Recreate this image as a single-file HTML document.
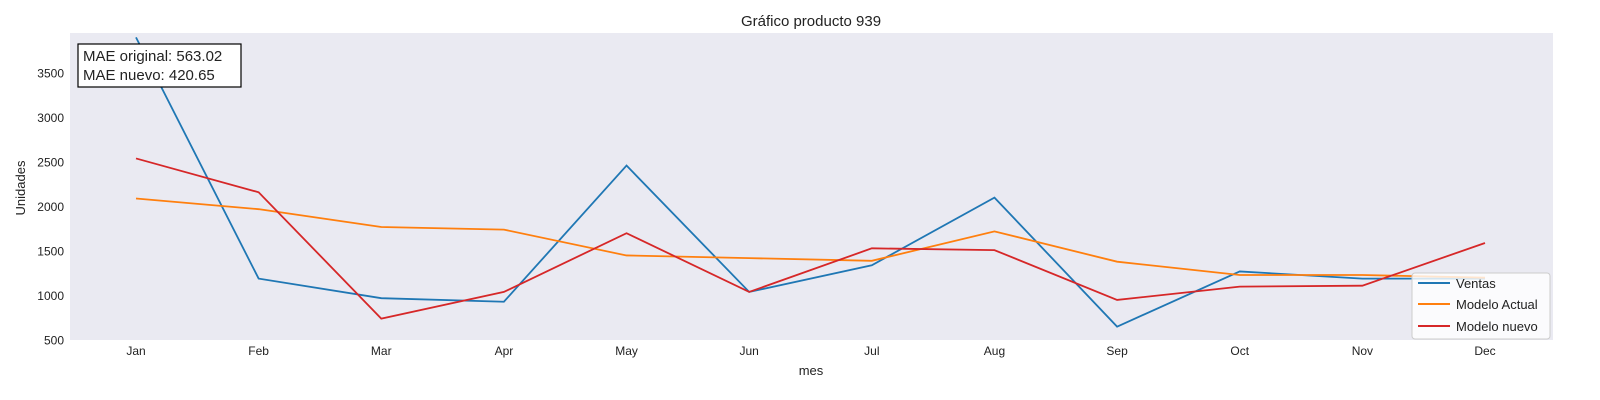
<!DOCTYPE html>
<html><head><meta charset="utf-8"><style>
html,body{margin:0;padding:0;width:1600px;height:400px;overflow:hidden;background:#fff;font-family:"Liberation Sans",Arial,sans-serif;}
svg{display:block;}
svg text{font-family:"Liberation Sans",Arial,sans-serif;fill:#222;}
</style></head><body>
<svg id="chart" width="1600" height="400" xmlns="http://www.w3.org/2000/svg">
<text x="811" y="26" text-anchor="middle" font-size="15">Gráfico producto 939</text>
<rect x="70" y="33" width="1483" height="307" fill="#eaeaf2"/>
<g id="yticks"></g><g id="xticks"></g><g id="series"></g>
<text x="811" y="375" text-anchor="middle" font-size="13">mes</text>
<text transform="translate(25,188) rotate(-90)" text-anchor="middle" font-size="13">Unidades</text>
<g>
<rect x="78" y="44" width="163" height="43" fill="#fff" stroke="#000" stroke-width="1.2"/>
<text x="83" y="61" font-size="15">MAE original: 563.02</text>
<text x="83" y="80" font-size="15">MAE nuevo: 420.65</text>
</g>
<g>
<rect x="1412" y="273" width="138" height="66" rx="3" fill="#fff" fill-opacity="0.8" stroke="#ccc"/>
<line x1="1418" y1="283" x2="1450" y2="283" stroke="#1f77b4" stroke-width="2"/>
<text x="1456" y="288" font-size="13">Ventas</text>
<line x1="1418" y1="304" x2="1450" y2="304" stroke="#ff7f0e" stroke-width="2"/>
<text x="1456" y="309" font-size="13">Modelo Actual</text>
<line x1="1418" y1="326" x2="1450" y2="326" stroke="#d62728" stroke-width="2"/>
<text x="1456" y="331" font-size="13">Modelo nuevo</text>
</g>
</svg>
<script>
const months=["Jan","Feb","Mar","Apr","May","Jun","Jul","Aug","Sep","Oct","Nov","Dec"];
const ventas=[3900,1190,970,930,2460,1040,1340,2100,650,1270,1190,1190];
const modeloActual=[2090,1970,1770,1740,1450,1420,1390,1720,1380,1230,1230,1200];
const modeloNuevo=[2540,2160,740,1040,1700,1040,1530,1510,950,1100,1110,1590];
const yTicks=[500,1000,1500,2000,2500,3000,3500];
const NS="http://www.w3.org/2000/svg";
const x=i=>136+i*(1485-136)/11;
const y=v=>340-(v-500)*0.089;
const yt=document.getElementById('yticks');
yTicks.forEach(t=>{const e=document.createElementNS(NS,'text');
e.setAttribute('x',64);e.setAttribute('y',y(t)+4.5);e.setAttribute('text-anchor','end');e.setAttribute('font-size','12');e.textContent=t;


yt.appendChild(e);});
const xt=document.getElementById('xticks');
months.forEach((m,i)=>{const e=document.createElementNS(NS,'text');
e.setAttribute('x',x(i));e.setAttribute('y',355);e.setAttribute('text-anchor','middle');e.setAttribute('font-size','12');e.textContent=m;


xt.appendChild(e);});
const sg=document.getElementById('series');
[[ventas,'#1f77b4','ventas-line'],[modeloActual,'#ff7f0e','modelo-actual-line'],[modeloNuevo,'#d62728','modelo-nuevo-line']].forEach(([d,c,n])=>{
const p=document.createElementNS(NS,'polyline');
p.setAttribute('points',d.map((v,i)=>x(i)+','+y(v)).join(' '));
p.setAttribute('fill','none');p.setAttribute('stroke',c);p.setAttribute('stroke-width','1.8');


sg.appendChild(p);});
</script>
</body></html>
